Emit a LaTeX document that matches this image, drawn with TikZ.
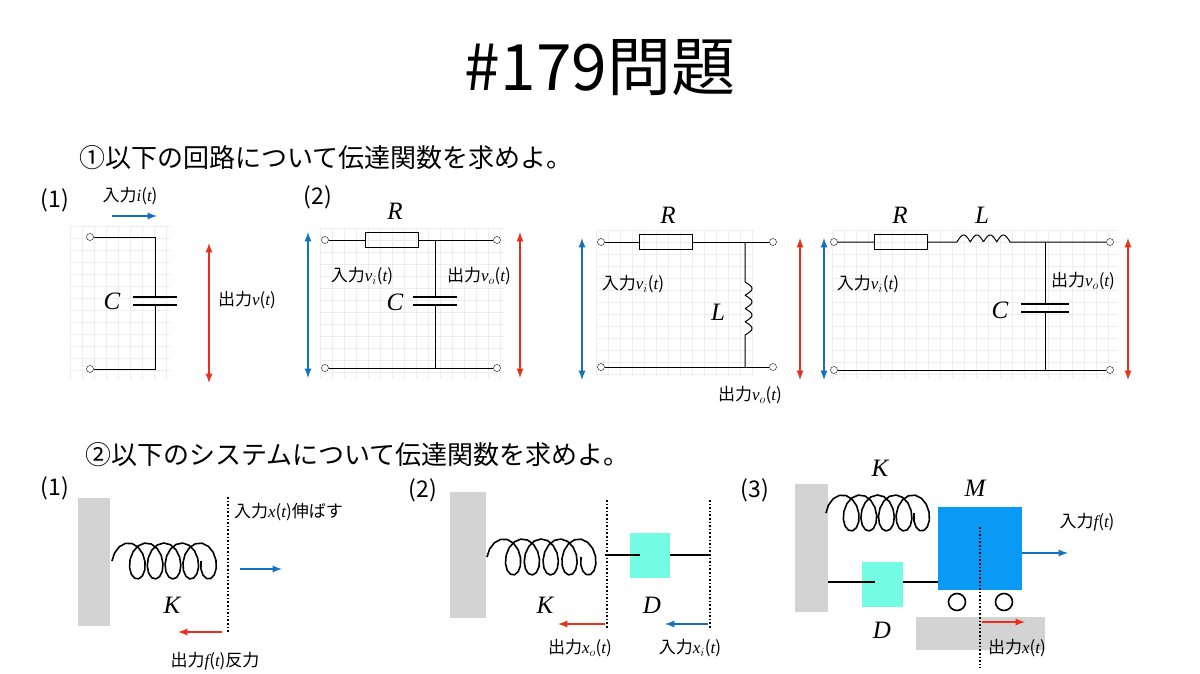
\documentclass[tikz,border=0pt]{standalone}
\usepackage{fontspec}
\newfontfamily\jp{Noto Sans CJK JP}
\newfontfamily\tms{Liberation Serif}
\newcommand\vv[1]{{\tms\itshape #1}}
\tikzset{
 wire/.style={line width=1pt,black},
 term/.style={circle,draw,fill=white,inner sep=0pt,minimum size=7pt},
 bar/.style={<->,>=latex,line width=2.2pt},
 arr/.style={->,>=latex,line width=2.2pt},
 lab/.style={font=\jp\fontsize{17}{17}\selectfont,inner sep=1pt},
 sym/.style={font=\tms\itshape\fontsize{25}{25}\selectfont,inner sep=0pt},
 gridd/.style={draw=gray!14,line width=0.4pt},
 spr/.style={line width=1.6pt,line join=round},
 dots/.style={line width=1.6pt,dotted},
 num/.style={font=\jp\fontsize{23}{23}\selectfont},
}
\definecolor{bl}{HTML}{1472BA}
\definecolor{rd}{HTML}{E8301C}
\definecolor{cy}{HTML}{74FBE4}
\definecolor{mb}{HTML}{0A99F5}
\definecolor{gr}{HTML}{D3D3D3}
\newcommand\spring[4]{\draw[spr] plot[domain=0:1800,samples=70] ({#1+\x/1800*(#2-#1-24)+12-12*cos(\x)},{#3-#4*sin(\x)/2});}
\newcommand\mygrid[4]{\foreach \gx in {#1,...,#3}{\ifnum\gx<#3\relax\fi}%
 \pgfmathsetmacro\nx{int((#3-#1)/12)}\pgfmathsetmacro\ny{int((#4-#2)/12)}%
 \foreach \k in {0,...,\nx}{\draw[gridd] ({#1+12*\k},#2) -- ({#1+12*\k},#4);}%
 \foreach \k in {0,...,\ny}{\draw[gridd] (#1,{#2+12*\k}) -- (#3,{#2+12*\k});}}
\begin{document}
\begin{tikzpicture}[x=1pt,y=-1pt]
\useasboundingbox (0,0) rectangle (1200,674);
\node[font=\jp\fontsize{64}{64}\selectfont] (title) at (600,68) {\#179問題};
\node[font=\jp\fontsize{26}{26}\selectfont,anchor=west] (h1) at (76,158) {①以下の回路について伝達関数を求めよ。};
\node[font=\jp\fontsize{26}{26}\selectfont,anchor=west] (h2) at (82,455) {②以下のシステムについて伝達関数を求めよ。};
% grids
\mygrid{70}{226}{170}{380}
\mygrid{320}{228}{505}{378}
\mygrid{596}{230}{752}{376}
\mygrid{832}{230}{1118}{378}
% ---- circuit 1
\node[num] (c1) at (55,200) {(1)};
\node[term] (a1) at (90,237) {};
\node[term] (b1) at (90,369) {};
\coordinate (a1r) at (155,237); \coordinate (b1r) at (155,369);
\draw[wire] (a1) -- (a1r) -- (155,297); \draw[wire] (155,305) -- (b1r) -- (b1);
\draw[line width=1.4pt] (133,297) -- (177,297) (133,305) -- (177,305);
\node[sym] (C1) at (112,301) {C};
\draw[arr,bl] (112,216) -- (157,216);
\node[lab] (i1) at (130,196) {入力\vv{i}(\vv{t})};
\draw[bar,rd] (209,243) -- (209,383);
\node[lab] (o1) at (247,300) {出力\vv{v}(\vv{t})};
% ---- circuit 2
\node[num] (c2) at (318,197) {(2)};
\node[term] (a2) at (325,240) {}; \node[term] (a2r) at (497,240) {};
\node[term] (b2) at (325,368) {}; \node[term] (b2r) at (497,368) {};
\node[draw,line width=1pt,minimum width=53pt,minimum height=15pt,inner sep=0pt] (R2) at (392,240) {};
\draw[wire] (a2) -- (R2) -- (a2r); \draw[wire] (b2) -- (b2r);
\draw[wire] (435,240) -- (435,297) (435,305) -- (435,368);
\draw[line width=1.4pt] (413,297) -- (457,297) (413,305) -- (457,305);
\node[sym] (R2l) at (395,211) {R}; \node[sym] (C2) at (395,302) {C};
\draw[bar,bl] (308,232) -- (308,378); \draw[bar,rd] (520,232) -- (520,378);
\node[lab] (i2) at (362,276) {入力\vv{v}$_i$(\vv{t})};
\node[lab] (o2) at (479,276) {出力\vv{v}$_o$(\vv{t})};
% ---- circuit 3
\node[term] (a3) at (601,242) {}; \node[term] (a3r) at (773,242) {};
\node[term] (b3) at (601,367) {}; \node[term] (b3r) at (773,367) {};
\node[draw,line width=1pt,minimum width=53pt,minimum height=15pt,inner sep=0pt] (R3) at (666,242) {};
\draw[wire] (a3) -- (R3) -- (a3r); \draw[wire] (b3) -- (b3r);
\draw[wire] (745,242) -- (745,282) plot[domain=0:720,samples=80] ({745+7*abs(sin(\x))},{282+\x/720*53}) -- (745,367);
\node[sym] (R3l) at (668,215) {R}; \node[sym] (L3) at (718,312) {L};
\draw[bar,bl] (582,238) -- (582,380); \draw[bar,rd] (800,238) -- (800,380);
\node[lab] (i3) at (633,284) {入力\vv{v}$_i$(\vv{t})};
\node[lab] (o3) at (750,395) {出力\vv{v}$_o$(\vv{t})};
% ---- circuit 4
\node[term] (a4) at (834,242) {}; \node[term] (a4r) at (1110,242) {};
\node[term] (b4) at (834,370) {}; \node[term] (b4r) at (1110,370) {};
\node[draw,line width=1pt,minimum width=53pt,minimum height=15pt,inner sep=0pt] (R4) at (901,242) {};
\draw[wire] (a4) -- (R4) -- (957,242) plot[domain=0:720,samples=80] ({957+\x/720*53},{242-7*abs(sin(\x))}) -- (a4r);
\draw[wire] (b4) -- (b4r);
\draw[wire] (1045,242) -- (1045,304) (1045,312) -- (1045,370);
\draw[line width=1.4pt] (1021,304) -- (1069,304) (1021,312) -- (1069,312);
\node[sym] (R4l) at (900,215) {R}; \node[sym] (L4) at (982,215) {L}; \node[sym] (C4) at (1000,310) {C};
\draw[bar,bl] (824,238) -- (824,380); \draw[bar,rd] (1128,238) -- (1128,380);
\node[lab] (i4) at (868,284) {入力\vv{v}$_i$(\vv{t})};
\node[lab] (o4) at (1083,281) {出力\vv{v}$_o$(\vv{t})};
% ---- system 1
\node[num] (s1) at (55,488) {(1)};
\fill[gr] (78,498) rectangle (110,626);
\spring{112}{225}{561}{36}
\draw[dots] (228,497) -- (228,632);
\draw[arr,bl] (240,569) -- (282,569);
\node[lab,anchor=west] (si1) at (233,512) {入力\vv{x}(\vv{t})伸ばす};
\node[sym] (K1) at (172,605) {K};
\draw[arr,rd] (222,632) -- (178,632);
\node[lab] (so1) at (215,661) {出力\vv{f}(\vv{t})反力};
% ---- system 2
\node[num] (s2) at (423,490) {(2)};
\fill[gr] (450,492) rectangle (486,618);
\spring{487}{605}{557}{36}
\node[fill=cy,minimum width=40pt,minimum height=45pt,inner sep=0pt] (D2) at (650,555) {};
\draw[line width=1.6pt] (605,555) -- (640,555) (670,555) -- (710,555);
\draw[dots] (607,500) -- (607,628); \draw[dots] (710,500) -- (710,628);
\node[sym] (K2) at (545,605) {K}; \node[sym] (D2l) at (652,605) {D};
\draw[arr,rd] (605,624) -- (558,624); \draw[arr,bl] (708,624) -- (665,624);
\node[lab] (so2) at (580,648) {出力\vv{x}$_o$(\vv{t})};
\node[lab] (si2) at (690,648) {入力\vv{x}$_i$(\vv{t})};
% ---- system 3
\node[num] (s3) at (755,490) {(3)};
\fill[gr] (795,484) rectangle (828,612);
\fill[gr] (916,617) rectangle (1045,650);
\node[sym] (K3) at (880,468) {K}; \node[sym] (M3) at (975,488) {M};
\spring{826}{938}{513}{36}
\node[fill=mb,minimum width=84pt,minimum height=83pt,inner sep=0pt,anchor=north west] (M) at (938,507) {};
\node[fill=cy,minimum width=41pt,minimum height=45pt,inner sep=0pt] (D3) at (882,584) {};
\draw[line width=1.4pt] (828,582) -- (875,582) (903,582) -- (938,582);
\node[circle,draw,line width=1.6pt,minimum size=17pt,inner sep=0pt] (w1) at (957,602) {};
\node[circle,draw,line width=1.6pt,minimum size=17pt,inner sep=0pt] (w2) at (1004,602) {};
\draw[dots] (980,527) -- (980,668);
\draw[arr,rd] (982,622) -- (1025,622);
\draw[arr,bl] (1022,553) -- (1068,553);
\node[lab] (si3) at (1087,522) {入力\vv{f}(\vv{t})};
\node[lab] (so3) at (1017,648) {出力\vv{x}(\vv{t})};
\node[sym] (D3l) at (882,630) {D};
\end{tikzpicture}
\end{document}
